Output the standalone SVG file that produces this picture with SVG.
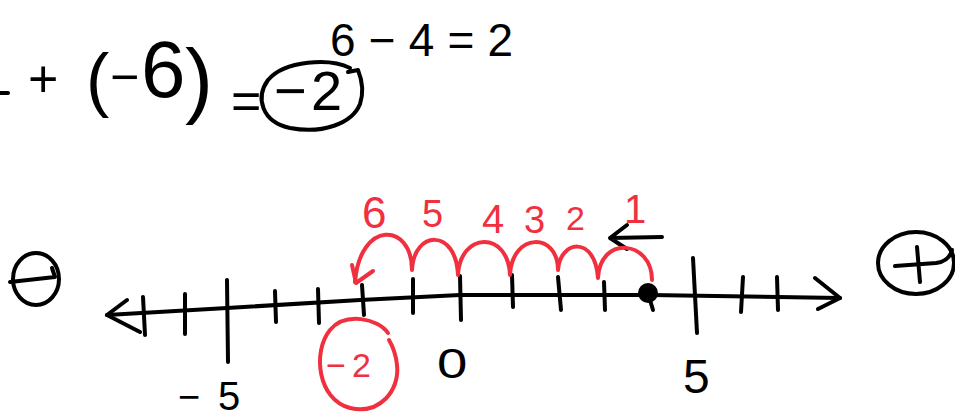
<svg xmlns="http://www.w3.org/2000/svg" width="955" height="419" viewBox="0 0 955 419">
<style>
.k{fill:none;stroke:#000;stroke-width:4;stroke-linecap:round;stroke-linejoin:round}
.r{fill:none;stroke:#f0303f;stroke-width:4;stroke-linecap:round;stroke-linejoin:round}
.t{font-family:"Liberation Sans",Arial,sans-serif;fill:#000}
.tr{font-family:"Liberation Sans",Arial,sans-serif;fill:#f0303f}
</style>
<rect width="955" height="419" fill="#fff"/>
<!-- top equations -->
<text class="t" x="330" y="56" font-size="46" textLength="183" lengthAdjust="spacing">6 − 4 = 2</text>
<path class="k" d="M0,93 L8,93"/>
<text class="t" font-size="52" x="28" y="97">+</text>
<text class="t" font-size="70" x="86" y="103">(</text>
<text class="t" font-size="50" x="110" y="94">−</text>
<text class="t" font-size="80" x="141" y="97">6</text>
<text class="t" font-size="84" x="185" y="108">)</text>
<text class="t" font-size="52" x="231" y="119">=</text>
<text class="t" font-size="56" x="274" y="110">−</text>
<text class="t" font-size="56" x="311" y="110">2</text>
<path class="k" d="M350,68 C330,58 285,60 268,80 C255,98 262,122 290,128 C322,134 352,124 360,104 C364,92 362,80 358,70 L348,72"/>
<!-- signs -->
<ellipse class="k" cx="36" cy="279" rx="23" ry="26"/>
<path class="k" d="M10,282 L55,277 L52,268"/>
<ellipse class="k" cx="916" cy="263" rx="38" ry="31"/>
<path class="k" d="M895,266 L936,263 C944,262 950,258 952,250 M917,247 L920,282"/>
<!-- number line -->
<path class="k" d="M107,315 L227,308 L360,300 L460,295 L650,295 L840,298"/>
<path class="k" d="M127,300 L107,315 L140,332 M815,278 L840,298 L818,309"/>
<g class="k">
<path d="M143,297 L145,335"/>
<path d="M185,294 L185,334"/>
<path d="M227,280 L228,362"/>
<path d="M275,291 L276,322"/>
<path d="M318,289 L319,323"/>
<path d="M362,285 L364,315"/>
<path d="M413,279 L413,313"/>
<path d="M460,276 L461,320"/>
<path d="M512,275 L513,307"/>
<path d="M558,277 L561,310"/>
<path d="M604,282 L605,310"/>
<path d="M650,300 L653,310"/>
<path d="M693,258 L697,333"/>
<path d="M743,277 L741,312"/>
<path d="M777,277 L778,310"/>
</g>
<circle cx="648" cy="293" r="10" fill="#000"/>
<text class="t" font-size="38" x="178" y="410">−</text>
<text class="t" font-size="40" x="218" y="410">5</text>
<text class="t" font-size="42" transform="translate(437,378) scale(1.3,1)">0</text>
<text class="t" font-size="48" x="683" y="393">5</text>
<!-- small arrow -->
<path class="k" d="M662,237 L610,238 M627,225 L610,238 L627,249"/>
<!-- red hops -->
<path class="r" d="M652,280 C652,240 600,235 598,278 C595,235 560,240 558,270 C558,232 512,232 510,275 C508,230 460,232 458,275 C456,228 414,230 412,270 C412,222 360,220 355,282"/>
<path class="r" d="M352,265 L356,283 L373,271"/>
<text class="tr" font-size="44" x="362" y="228">6</text>
<text class="tr" font-size="38" x="422" y="227">5</text>
<text class="tr" font-size="40" x="482" y="233">4</text>
<text class="tr" font-size="38" x="524" y="233">3</text>
<text class="tr" font-size="34" x="566" y="230">2</text>
<text class="tr" font-size="40" x="624" y="223">1</text>
<path class="r" d="M388,333 C378,318 345,312 330,330 C312,352 318,400 350,408 C380,415 400,390 397,365 C396,355 392,345 389,340"/>
<text class="tr" font-size="34" x="326" y="377">−</text>
<text class="tr" font-size="34" x="352" y="377">2</text>
</svg>
